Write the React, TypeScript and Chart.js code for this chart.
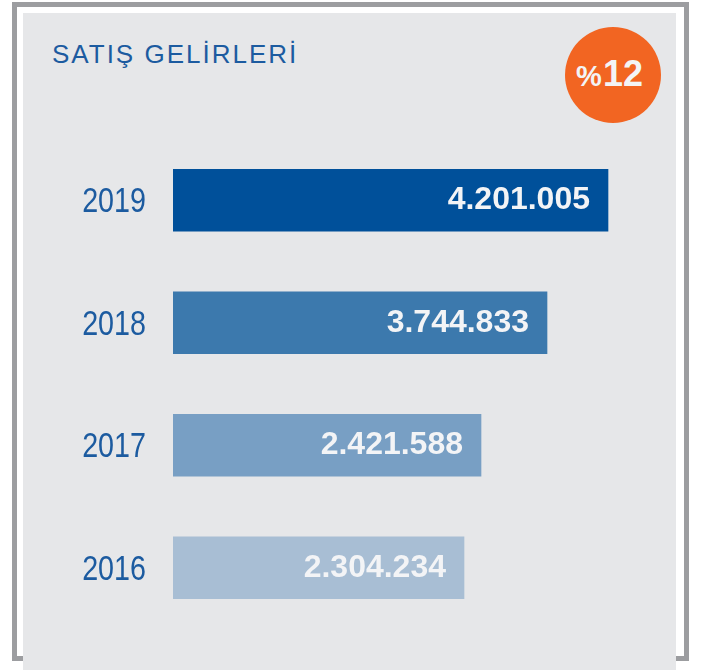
import React, { useEffect, useRef } from "react";
import { Chart, registerables } from "chart.js";

Chart.register(...registerables);

// ---- data ----
const years: string[] = ["2019", "2018", "2017", "2016"];
const salesLabels: string[] = ["4.201.005", "3.744.833", "2.421.588", "2.304.234"];
// bar lengths as drawn in the picture (infographic, not to scale), same units
const barLengths: number[] = [4350000, 3740000, 3080000, 2910000];
const barColors: string[] = ["#00509a", "#3c79ad", "#789fc4", "#a8bed4"];
const titleText = "SATIŞ GELİRLERİ";
const badgeSign = "%";
const badgeValue = "12";

const textBlue = "#1c5ba0";

const valueLabelPlugin = {
  id: "valueLabels",
  afterDatasetsDraw(chart: any) {
    const ctx = chart.ctx;
    const meta = chart.getDatasetMeta(0);
    ctx.save();
    ctx.font = "bold 32px 'Liberation Sans', Arial, sans-serif";
    ctx.fillStyle = "#f3f4f6";
    ctx.textAlign = "right";
    ctx.textBaseline = "alphabetic";
    meta.data.forEach((el: any, i: number) => {
      ctx.fillText(salesLabels[i], el.x - 18, el.y + 9);
    });
    ctx.restore();
  },
};

// year labels on the category axis, drawn horizontally condensed
const yearLabelPlugin = {
  id: "yearLabels",
  afterDraw(chart: any) {
    const ctx = chart.ctx;
    const yScale = chart.scales.y;
    ctx.save();
    ctx.font = "35px 'Liberation Sans', Arial, sans-serif";
    ctx.fillStyle = textBlue;
    ctx.textAlign = "right";
    ctx.textBaseline = "alphabetic";
    years.forEach((label, i) => {
      const y = yScale.getPixelForValue(i);
      ctx.save();
      ctx.translate(yScale.right - 27, y + 12);
      ctx.scale(0.82, 1);
      ctx.fillText(label, 0, 0);
      ctx.restore();
    });
    ctx.restore();
  },
};

export default function App() {
  const ref = useRef<HTMLCanvasElement | null>(null);

  useEffect(() => {
    if (!ref.current) return;
    const chart = new Chart(ref.current, {
      type: "bar",
      data: {
        labels: years,
        datasets: [
          {
            data: barLengths,
            backgroundColor: barColors,
            borderWidth: 0,
            barThickness: 62,
          },
        ],
      },
      options: {
        indexAxis: "y",
        animation: false,
        responsive: false,
        devicePixelRatio: 1,
        layout: { padding: { left: 20, top: 139, right: 34, bottom: 41 } },
        plugins: {
          legend: { display: false },
          tooltip: { enabled: false },
          title: { display: false },
        },
        scales: {
          x: {
            display: false,
            min: 0,
            max: 5000000,
          },
          y: {
            grid: { display: false, drawTicks: false, tickLength: 0 },
            border: { display: false },
            ticks: { display: false },
            afterFit: (scale: any) => {
              scale.width = 153;
            },
          },
        },
      },
      plugins: [valueLabelPlugin, yearLabelPlugin],
    });
    return () => chart.destroy();
  }, []);

  return (
    <div style={{ position: "fixed", left: 0, top: 0, width: 707, height: 670, background: "#ffffff", overflow: "hidden" }}>
      <div
        style={{
          position: "absolute",
          left: 12,
          top: 2,
          width: 677,
          height: 659,
          border: "5px solid #9c9da0",
          boxSizing: "border-box",
        }}
      />
      <div style={{ position: "absolute", left: 23, top: 13, width: 653, height: 657, background: "#e6e7e9" }} />
      <div
        style={{
          position: "absolute",
          left: 52,
          top: 41,
          fontFamily: "'Liberation Sans', Arial, sans-serif",
          fontSize: 26,
          lineHeight: "26px",
          letterSpacing: "2px",
          color: textBlue,
          whiteSpace: "nowrap",
        }}
      >
        {titleText}
      </div>
      <div
        style={{
          position: "absolute",
          left: 565,
          top: 27,
          width: 96,
          height: 96,
          borderRadius: "50%",
          background: "#f26522",
        }}
      />
      <div
        style={{
          position: "absolute",
          left: 576,
          top: 62,
          fontFamily: "'Liberation Sans', Arial, sans-serif",
          fontWeight: "bold",
          fontSize: 29,
          lineHeight: "29px",
          color: "#f3f4f6",
          whiteSpace: "nowrap",
        }}
      >
        {badgeSign}
      </div>
      <div
        style={{
          position: "absolute",
          left: 603,
          top: 56,
          fontFamily: "'Liberation Sans', Arial, sans-serif",
          fontWeight: "bold",
          fontSize: 36,
          lineHeight: "36px",
          color: "#f3f4f6",
          whiteSpace: "nowrap",
        }}
      >
        {badgeValue}
      </div>
      <canvas ref={ref} width={707} height={670} style={{ position: "absolute", left: 0, top: 0, width: 707, height: 670 }} />
    </div>
  );
}
